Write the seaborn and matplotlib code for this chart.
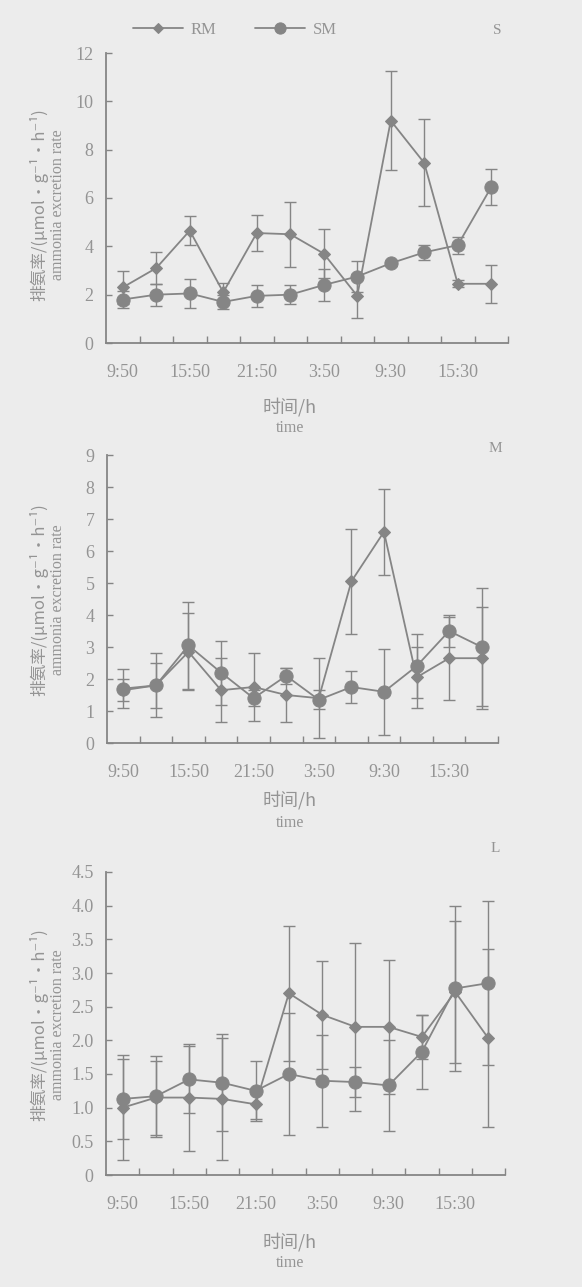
import matplotlib
matplotlib.use("Agg")
import matplotlib.pyplot as plt
import numpy as np
import pandas as pd
import seaborn as sns

# category positions: 12 sampling times, every other one labelled
tick_labels = ["9:50", "15:50", "21:50", "3:50", "9:30", "15:30"]
n_points = 12

# S group
rm_s = [2.3, 3.1, 4.65, 2.1, 4.55, 4.5, 3.7, 1.95, 9.2, 7.45, 2.45, 2.45]
rm_s_err = [0.7, 0.65, 0.6, 0.4, 0.75, 1.35, 1.0, 0.9, 2.05, 1.8, 0.15, 0.78]
sm_s = [1.8, 2.0, 2.05, 1.7, 1.95, 2.0, 2.4, 2.75, 3.3, 3.75, 4.05, 6.45]
sm_s_err = [0.35, 0.45, 0.6, 0.3, 0.45, 0.4, 0.65, 0.65, 0.1, 0.3, 0.35, 0.75]

# M group
rm_m = [1.65, 1.8, 2.85, 1.65, 1.75, 1.5, 1.4, 5.05, 6.6, 2.05, 2.65, 2.65]
rm_m_err = [0.35, 1.0, 1.2, 1.0, 1.05, 0.85, 1.25, 1.65, 1.35, 0.95, 1.3, 1.6]
sm_m = [1.7, 1.8, 3.05, 2.2, 1.4, 2.1, 1.35, 1.75, 1.6, 2.4, 3.5, 3.0]
sm_m_err = [0.6, 0.7, 1.35, 1.0, 0.25, 0.25, 0.3, 0.5, 1.35, 1.0, 0.5, 1.85]

# L group
rm_l = [1.0, 1.15, 1.15, 1.13, 1.05, 2.7, 2.38, 2.2, 2.2, 2.05, 2.72, 2.03]
rm_l_err = [0.78, 0.55, 0.8, 0.9, 0.22, 1.0, 0.8, 1.25, 1.0, 0.32, 1.05, 1.32]
sm_l = [1.13, 1.17, 1.42, 1.37, 1.25, 1.5, 1.4, 1.38, 1.33, 1.83, 2.77, 2.85]
sm_l_err = [0.6, 0.6, 0.5, 0.72, 0.45, 0.9, 0.68, 0.22, 0.67, 0.55, 1.22, 1.22]

BG = "#ececec"
LINE = "#858585"
TEXT = "#949494"

sns.set_theme(style="ticks")
plt.rcParams["font.family"] = ["Liberation Serif", "Noto Sans CJK SC", "DejaVu Sans"]
plt.rcParams["axes.edgecolor"] = LINE
plt.rcParams["xtick.color"] = LINE
plt.rcParams["ytick.color"] = LINE
plt.rcParams["xtick.labelcolor"] = TEXT
plt.rcParams["ytick.labelcolor"] = TEXT


def make_df(rm, rm_err, sm, sm_err):
    x = np.arange(n_points)
    return pd.concat(
        [
            pd.DataFrame({"x": x, "rate": rm, "err": rm_err, "series": "RM"}),
            pd.DataFrame({"x": x, "rate": sm, "err": sm_err, "series": "SM"}),
        ],
        ignore_index=True,
    )


def draw_panel(ax, df, ymax, ystep, fmt):
    styles = {"RM": ("D", 6.5), "SM": ("o", 9.5)}
    for name, (marker, ms) in styles.items():
        sub = df[df["series"] == name]
        ax.errorbar(
            sub["x"], sub["rate"], yerr=sub["err"], fmt="none",
            ecolor=LINE, elinewidth=1.0, capsize=4, capthick=1.0, zorder=2,
        )
        sns.lineplot(
            data=sub, x="x", y="rate", ax=ax, color=LINE, marker=marker,
            markersize=ms, markeredgecolor=LINE, linewidth=1.3,
            label=name, legend=False, zorder=3,
        )
    ax.set_facecolor(BG)
    ax.set_xlim(-0.5, n_points - 0.5)
    ax.set_ylim(0, ymax)
    ax.set_xticks(np.arange(0, n_points, 2))
    ax.set_xticklabels(tick_labels)
    ax.set_xticks(np.arange(0.5, n_points, 1), minor=True)
    ax.tick_params(axis="x", which="major", length=0, pad=15, labelsize=13)
    ax.tick_params(axis="x", which="minor", direction="in", length=5, width=1)
    yt = np.arange(0, ymax + ystep / 2, ystep)
    ax.set_yticks(yt)
    ax.set_yticklabels([fmt(v) for v in yt])
    ax.tick_params(axis="y", direction="in", length=4, width=1, pad=9, labelsize=13)
    for side in ["top", "right"]:
        ax.spines[side].set_visible(False)
    for side in ["left", "bottom"]:
        ax.spines[side].set_linewidth(1.3)
    ax.set_xlabel("")
    ax.set_ylabel("")


W, H = 582, 1287
fig = plt.figure(figsize=(W / 100, H / 100), dpi=100)
fig.patch.set_facecolor(BG)

panels = [
    # (left, top, right, bottom) in pixels, data, ymax, step, formatter, tag, tag pos, xlabel y, ylabel y
    ((106, 53, 508, 343), make_df(rm_s, rm_s_err, sm_s, sm_s_err), 12, 2,
     lambda v: f"{v:g}", "S", (497, 30), (407, 428), 205),
    ((107, 455, 498, 743), make_df(rm_m, rm_m_err, sm_m, sm_m_err), 9, 1,
     lambda v: f"{v:g}", "M", (495, 448), (800, 823), 600),
    ((106, 872, 505, 1175), make_df(rm_l, rm_l_err, sm_l, sm_l_err), 4.5, 0.5,
     lambda v: "0" if v == 0 else f"{v:.1f}", "L", (495, 848), (1242, 1263), 1025),
]

axes = []
for (l, t, r, b), df, ymax, step, fmt, tag, tagpos, xl, ymid in panels:
    ax = fig.add_axes([l / W, 1 - b / H, (r - l) / W, (b - t) / H])
    draw_panel(ax, df, ymax, step, fmt)
    axes.append(ax)
    fig.text(tagpos[0] / W, 1 - tagpos[1] / H, tag, color=TEXT, fontsize=11,
             ha="center", va="center")
    fig.text(290 / W, 1 - xl[0] / H, "时间/h", color=TEXT, fontsize=13,
             ha="center", va="center",
             family=["Noto Sans CJK SC", "DejaVu Sans"])
    fig.text(290 / W, 1 - xl[1] / H, "time", color=TEXT, fontsize=11.5,
             ha="center", va="center")
    fig.text(39 / W, 1 - ymid / H, "排氨率/(μmol·g⁻¹·h⁻¹)", color=TEXT,
             fontsize=12, rotation=90, ha="center", va="center",
             family=["Noto Sans CJK SC", "DejaVu Sans"])
    fig.text(58 / W, 1 - ymid / H, "ammonia excretion rate", color=TEXT,
             fontsize=11.5, rotation=90, ha="center", va="center")

handles, labels = axes[0].get_legend_handles_labels()
fig.legend(handles, labels, loc="center", bbox_to_anchor=(235 / W, 1 - 30 / H),
           ncol=2, frameon=False, handlelength=3.0, columnspacing=2.3,
           handletextpad=0.5, fontsize=12, labelcolor=TEXT, markerscale=0.85)

fig.savefig("out.png", dpi=100, facecolor=BG)
